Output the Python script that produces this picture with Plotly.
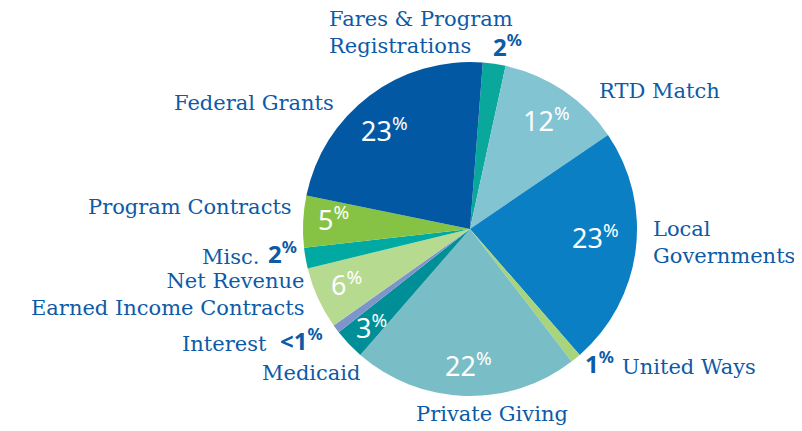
import plotly.graph_objects as go

categories = ["Fares & Program Registrations", "RTD Match", "Local Governments", "United Ways",
              "Private Giving", "Medicaid", "Interest", "Net Revenue Earned Income Contracts",
              "Misc.", "Program Contracts", "Federal Grants"]
values = [2.2, 12.05, 23.1, 1.0, 21.8, 3.0, 0.8, 6.0, 2.0, 5.0, 23.0]
pct_labels = ["2", "12", "23", "1", "22", "3", "<1", "6", "2", "5", "23"]
colors = ["#0aa89c", "#82c4d2", "#0a7fc3", "#a8d47c", "#79bdc7", "#008f96",
          "#7e95cb", "#b6da8f", "#00a9a1", "#86c243", "#0358a3"]

# page has an 8px default body margin: figure is sized to fit the window
OFF = 8
W, H = 802 - OFF, 431 - OFF
TXT = "#0d5aa7"
LFONT = "DejaVu Serif"
NFONT = "Noto Sans"

def px(x):
    return (x - OFF) / W

def py(y):
    return 1 - (y - OFF) / H

fig = go.Figure(go.Pie(
    labels=categories, values=values, sort=False, direction="clockwise",
    rotation=4.4, marker=dict(colors=colors, line=dict(width=0)),
    textinfo="none", hoverinfo="label+percent", showlegend=False,
    domain=dict(x=[px(303), px(637)], y=[py(396), py(62)]),
))

def ann(text, x, y, xanchor="center", size=21, color=TXT, bold=False, align="left", family=LFONT):
    if bold:
        text = "<b>" + text + "</b>"
    fig.add_annotation(text=text, x=px(x), y=py(y), xref="paper", yref="paper",
                       xanchor=xanchor, yanchor="middle", showarrow=False, align=align,
                       font=dict(family=family, size=size, color=color))

pct = lambda s: s + "<sup>%</sup>"

# outside category labels
ann("Fares & Program<br>Registrations", 327, 33, "left")
ann("RTD Match", 597, 91, "left")
ann("Federal Grants", 336, 103, "right")
ann("Local<br>Governments", 651, 242, "left")
ann("United Ways", 620, 367, "left")
ann("Private Giving", 492, 414)
ann("Medicaid", 363, 373, "right")
ann("Interest", 269, 344, "right")
ann("Net Revenue<br>Earned Income Contracts", 306, 294, "right", align="right")
ann("Misc.", 261, 257, "right")
ann("Program Contracts", 294, 207, "right")

# outside bold percentages
ann(pct(pct_labels[0]), 507, 45, size=24, bold=True, family=NFONT)
ann(pct(pct_labels[3]), 599, 362, size=24, bold=True, family=NFONT)
ann(pct(pct_labels[6]), 301, 339, size=24, bold=True, family=NFONT)
ann(pct(pct_labels[8]), 282, 252, size=24, bold=True, family=NFONT)

# inside white percentages
for i, (x, y) in {1: (546, 119), 2: (595, 236), 4: (468, 364), 5: (371, 326),
                  7: (346, 283), 9: (333, 218), 10: (384, 130)}.items():
    ann(pct(pct_labels[i]), x, y, size=27, color="white", family=NFONT)

fig.update_layout(width=W, height=H, margin=dict(l=0, r=0, t=0, b=0),
                  paper_bgcolor="white", plot_bgcolor="white")
fig.write_html("out.html")
